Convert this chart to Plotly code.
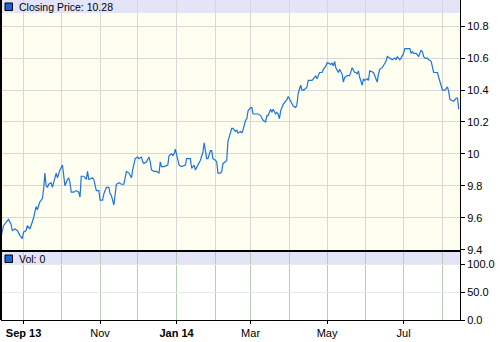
import plotly.graph_objects as go

# ---------------- data ----------------
dates = [
    "2013-08-14", "2013-08-16", "2013-08-19", "2013-08-20", "2013-08-22", "2013-08-23", "2013-08-25", "2013-08-27",
    "2013-08-29", "2013-08-31", "2013-09-01", "2013-09-03", "2013-09-04", "2013-09-06", "2013-09-07", "2013-09-09",
    "2013-09-11", "2013-09-12", "2013-09-14", "2013-09-16", "2013-09-17", "2013-09-18", "2013-09-19", "2013-09-20",
    "2013-09-21", "2013-09-23", "2013-09-24", "2013-09-25", "2013-09-26", "2013-09-27", "2013-09-28", "2013-09-30",
    "2013-10-02", "2013-10-04", "2013-10-06", "2013-10-07", "2013-10-08", "2013-10-09", "2013-10-11", "2013-10-13",
    "2013-10-15", "2013-10-16", "2013-10-17", "2013-10-19", "2013-10-21", "2013-10-22", "2013-10-23", "2013-10-26",
    "2013-10-27", "2013-10-29", "2013-10-31", "2013-11-01", "2013-11-03", "2013-11-04", "2013-11-06", "2013-11-08",
    "2013-11-09", "2013-11-10", "2013-11-12", "2013-11-13", "2013-11-14", "2013-11-16",
    "2013-11-18", "2013-11-20", "2013-11-21", "2013-11-22", "2013-11-24", "2013-11-26", "2013-11-27", "2013-11-29",
    "2013-12-01", "2013-12-02", "2013-12-04", "2013-12-05", "2013-12-06", "2013-12-08", "2013-12-10", "2013-12-11",
    "2013-12-12", "2013-12-14", "2013-12-16", "2013-12-18", "2013-12-19", "2013-12-20", "2013-12-22", "2013-12-24",
    "2013-12-25", "2013-12-26", "2013-12-28", "2013-12-29", "2013-12-30", "2013-12-31", "2014-01-02", "2014-01-03",
    "2014-01-05", "2014-01-07", "2014-01-08", "2014-01-09", "2014-01-11", "2014-01-12", "2014-01-13", "2014-01-15",
    "2014-01-16", "2014-01-18", "2014-01-19", "2014-01-20", "2014-01-22", "2014-01-23", "2014-01-24", "2014-01-25",
    "2014-01-26", "2014-01-28", "2014-01-29", "2014-01-30", "2014-02-01", "2014-02-02", "2014-02-03", "2014-02-05",
    "2014-02-06", "2014-02-07", "2014-02-09", "2014-02-10", "2014-02-11", "2014-02-13", "2014-02-14", "2014-02-15",
    "2014-02-17", "2014-02-18", "2014-02-19", "2014-02-21",
    "2014-02-22", "2014-02-23", "2014-02-25", "2014-02-26", "2014-02-27", "2014-03-01", "2014-03-02", "2014-03-03",
    "2014-03-05", "2014-03-07", "2014-03-09", "2014-03-10", "2014-03-11", "2014-03-13", "2014-03-14", "2014-03-15",
    "2014-03-17", "2014-03-18", "2014-03-19", "2014-03-21", "2014-03-22", "2014-03-23", "2014-03-24", "2014-03-25",
    "2014-03-27", "2014-03-29", "2014-03-30", "2014-03-31", "2014-04-02", "2014-04-03", "2014-04-04", "2014-04-06",
    "2014-04-07", "2014-04-08", "2014-04-10", "2014-04-11", "2014-04-12", "2014-04-14", "2014-04-15", "2014-04-16",
    "2014-04-18", "2014-04-19", "2014-04-20", "2014-04-22", "2014-04-23", "2014-04-24", "2014-04-25", "2014-04-27",
    "2014-04-28", "2014-04-30", "2014-05-01", "2014-05-02", "2014-05-04", "2014-05-05", "2014-05-06", "2014-05-07",
    "2014-05-08", "2014-05-10", "2014-05-11",
    "2014-05-13", "2014-05-14", "2014-05-15", "2014-05-17", "2014-05-19", "2014-05-20", "2014-05-21", "2014-05-23",
    "2014-05-24", "2014-05-25", "2014-05-26", "2014-05-27", "2014-05-29", "2014-05-30", "2014-05-31", "2014-06-02",
    "2014-06-03", "2014-06-04", "2014-06-06", "2014-06-07", "2014-06-08", "2014-06-10", "2014-06-11", "2014-06-12",
    "2014-06-14", "2014-06-16", "2014-06-17", "2014-06-18", "2014-06-20", "2014-06-21", "2014-06-22", "2014-06-24",
    "2014-06-25", "2014-06-26", "2014-06-28", "2014-06-29", "2014-07-01", "2014-07-02", "2014-07-04", "2014-07-06",
    "2014-07-07", "2014-07-08", "2014-07-09", "2014-07-11", "2014-07-12", "2014-07-13", "2014-07-15", "2014-07-16",
    "2014-07-17", "2014-07-18", "2014-07-20", "2014-07-21", "2014-07-23", "2014-07-24", "2014-07-25", "2014-07-26",
    "2014-07-28", "2014-07-29", "2014-07-30", "2014-08-01", "2014-08-02", "2014-08-03", "2014-08-05", "2014-08-06",
    "2014-08-07", "2014-08-09", "2014-08-10", "2014-08-12", "2014-08-13", "2014-08-14",
]

close = [
    9.48, 9.55, 9.58, 9.59, 9.56, 9.52, 9.53, 9.52,
    9.49, 9.47, 9.51, 9.52, 9.55, 9.53, 9.55, 9.60,
    9.67, 9.65, 9.70, 9.72, 9.78, 9.88, 9.80, 9.79,
    9.81, 9.82, 9.79, 9.82, 9.84, 9.88, 9.85, 9.90,
    9.93, 9.80, 9.84, 9.85, 9.82, 9.76, 9.76, 9.77,
    9.76, 9.73, 9.86, 9.86, 9.84, 9.89, 9.84, 9.85,
    9.84, 9.77, 9.77, 9.71, 9.71, 9.75, 9.79, 9.79,
    9.75, 9.74, 9.68, 9.77, 9.81, 9.82,
    9.81, 9.81, 9.86, 9.89, 9.88, 9.85, 9.90, 9.97,
    9.98, 9.97, 9.98, 9.95, 9.94, 9.95, 9.98, 9.95,
    9.90, 9.89, 9.89, 9.88, 9.95, 9.92, 9.92, 9.93,
    9.93, 9.99, 10.00, 9.99, 10.00, 10.03, 9.97, 9.93,
    9.92, 9.93, 9.93, 9.97, 9.97, 9.97, 9.91, 9.93,
    9.90, 9.93, 9.94, 9.96, 10.01, 10.07, 10.02, 9.97,
    9.97, 10.02, 10.02, 9.97, 9.96, 9.95, 9.88, 9.88,
    9.89, 9.94, 9.95, 9.96, 10.08, 10.13, 10.16, 10.16,
    10.14, 10.15, 10.13, 10.14,
    10.13, 10.15, 10.21, 10.22, 10.27, 10.29, 10.29, 10.25,
    10.25, 10.25, 10.24, 10.22, 10.21, 10.20, 10.24, 10.24,
    10.28, 10.26, 10.28, 10.25, 10.26, 10.25, 10.22, 10.27,
    10.31, 10.33, 10.34, 10.36, 10.33, 10.31, 10.30, 10.29,
    10.31, 10.38, 10.43, 10.40, 10.40, 10.41, 10.42, 10.46,
    10.46, 10.46, 10.47, 10.49, 10.47, 10.49, 10.51, 10.51,
    10.53, 10.55, 10.57, 10.57, 10.56, 10.57, 10.55, 10.58,
    10.54, 10.51, 10.53,
    10.50, 10.45, 10.48, 10.49, 10.49, 10.51, 10.54, 10.51,
    10.51, 10.50, 10.52, 10.48, 10.43, 10.47, 10.46, 10.47,
    10.46, 10.52, 10.51, 10.51, 10.49, 10.45, 10.50, 10.53,
    10.54, 10.57, 10.58, 10.61, 10.60, 10.60, 10.59, 10.60,
    10.59, 10.61, 10.59, 10.60, 10.63, 10.66, 10.66, 10.66,
    10.63, 10.64, 10.63, 10.63, 10.62, 10.61, 10.65, 10.64,
    10.61, 10.60, 10.60, 10.59, 10.58, 10.54, 10.51, 10.51,
    10.51, 10.48, 10.45, 10.40, 10.40, 10.40, 10.42, 10.39,
    10.34, 10.33, 10.33, 10.35, 10.35, 10.28,
]

volume_latest = 0

month_grid = [
    "2013-09-01", "2013-10-01", "2013-11-01", "2013-12-01", "2014-01-01", "2014-02-01",
    "2014-03-01", "2014-04-01", "2014-05-01", "2014-06-01", "2014-07-01", "2014-08-01",
]
label_months = ["2013-09-01", "2013-11-01", "2014-01-01", "2014-03-01", "2014-05-01", "2014-07-01"]
label_text = ["<b>Sep 13</b>", "Nov", "<b>Jan 14</b>", "Mar", "May", "Jul"]

price_ticks = [9.4, 9.6, 9.8, 10.0, 10.2, 10.4, 10.6, 10.8]
price_tick_text = ["9.4", "9.6", "9.8", "10", "10.2", "10.4", "10.6", "10.8"]
vol_ticks = [0, 50, 100]
vol_tick_text = ["0.0", "50.0", "100.0"]

# ---------------- styling ----------------
W, H = 500, 342
ML, MR, MT, MB = 1, 40, 0, 22
PW, PH = W - ML - MR, H - MT - MB          # plot area 459 x 320
TOP_BOTTOM_PX = 250                        # bottom of price panel
VOL_TOP_PX = 252                           # top of volume panel
BAND_PX = 13

FONT = "Liberation Sans, Arial, sans-serif"
LINE_BLUE = "#1f74dc"
IVORY = "#fefef0"
LAVENDER = "#e4e4f8"
GRID = "#d7d7d7"
VGRID = "#b8ccb8"

def py(p):
    """pixel (from top of plot area) -> paper y"""
    return (PH - p) / PH

def px(p):
    """pixel (from left of page) -> paper x"""
    return (p - ML) / PW

fig = go.Figure()
fig.add_trace(go.Scatter(
    x=dates, y=close, mode="lines",
    line=dict(color=LINE_BLUE, width=1.2),
    xaxis="x", yaxis="y", hoverinfo="skip", showlegend=False,
))
fig.add_trace(go.Bar(
    x=[dates[-1]], y=[volume_latest], xaxis="x2", yaxis="y2",
    marker=dict(color=LINE_BLUE, line=dict(width=0)), showlegend=False, hoverinfo="skip",
))

xrange = ["2013-08-14", "2014-08-15"]
tickfont = dict(family=FONT, size=11, color="black")

fig.update_layout(
    width=W, height=H,
    margin=dict(l=ML, r=MR, t=MT, b=MB, pad=0),
    paper_bgcolor="white", plot_bgcolor="white",
    showlegend=False,
    font=dict(family=FONT, size=11, color="black"),
    xaxis=dict(
        domain=[0, 1], anchor="y", range=xrange, type="date",
        tickmode="array", tickvals=month_grid, showticklabels=False, ticks="",
        showgrid=True, gridcolor=GRID, gridwidth=1,
        showline=True, linecolor="black", linewidth=2,
        zeroline=False, fixedrange=True,
    ),
    yaxis=dict(
        domain=[py(TOP_BOTTOM_PX), 1], anchor="x", side="right",
        range=[9.398, 10.964],
        tickmode="array", tickvals=price_ticks, ticktext=price_tick_text,
        ticks="outside", ticklen=4, tickcolor="black", tickwidth=1,
        tickfont=tickfont,
        showgrid=True, gridcolor=GRID, gridwidth=1,
        showline=True, linecolor="black", linewidth=1,
        zeroline=False,
    ),
    xaxis2=dict(
        domain=[0, 1], anchor="y2", range=xrange, type="date", matches="x",
        tickmode="array", tickvals=label_months, ticktext=label_text,
        ticks="outside", ticklen=3, tickcolor="black",
        tickfont=tickfont,
        showgrid=True, gridcolor=VGRID, gridwidth=1,
        minor=dict(tickmode="array", tickvals=month_grid, showgrid=True,
                   gridcolor=VGRID, gridwidth=1, ticks=""),
        showline=True, linecolor="black", linewidth=1,
        zeroline=False,
    ),
    yaxis2=dict(
        domain=[0, py(VOL_TOP_PX)], anchor="x2", side="right",
        range=[0, 122.5],
        tickmode="array", tickvals=vol_ticks, ticktext=vol_tick_text,
        ticks="outside", ticklen=4, tickcolor="black",
        tickfont=tickfont,
        showgrid=True, gridcolor="#e9e9e9", gridwidth=1,
        showline=True, linecolor="black", linewidth=1,
        zeroline=False,
    ),
)

shapes = []
# ivory background for price panel
shapes.append(dict(type="rect", xref="x domain", yref="y domain", x0=0, x1=1, y0=0, y1=1,
                   fillcolor=IVORY, line=dict(width=0), layer="below"))
# header bands
shapes.append(dict(type="rect", xref="x domain", yref="y domain", x0=0, x1=1,
                   y0=1 - BAND_PX / TOP_BOTTOM_PX, y1=1,
                   fillcolor=LAVENDER, line=dict(width=0), layer="below"))
vol_h = PH - VOL_TOP_PX
shapes.append(dict(type="rect", xref="x2 domain", yref="y2 domain", x0=0, x1=1,
                   y0=1 - BAND_PX / vol_h, y1=1,
                   fillcolor=LAVENDER, line=dict(width=0), layer="below"))
# left border
shapes.append(dict(type="line", xref="paper", yref="paper", x0=0, x1=0, y0=0, y1=1,
                   line=dict(color="black", width=2), layer="above"))
# legend squares
for top in (3, 255):
    shapes.append(dict(type="rect", xref="paper", yref="paper",
                       x0=px(5), x1=px(12.5), y0=py(top + 7.5), y1=py(top),
                       fillcolor="#1166dd", line=dict(color="black", width=1), layer="above"))
fig.update_layout(shapes=shapes)

fig.add_annotation(text=f"Closing Price: {close[-1]:.2f}", xref="paper", yref="paper",
                   x=px(17), y=py(7), xanchor="left", yanchor="middle", showarrow=False,
                   font=dict(family=FONT, size=10.5, color="black"))
fig.add_annotation(text=f"Vol: {volume_latest}", xref="paper", yref="paper",
                   x=px(17), y=py(259), xanchor="left", yanchor="middle", showarrow=False,
                   font=dict(family=FONT, size=10.5, color="black"))

fig.write_html("out.html")
